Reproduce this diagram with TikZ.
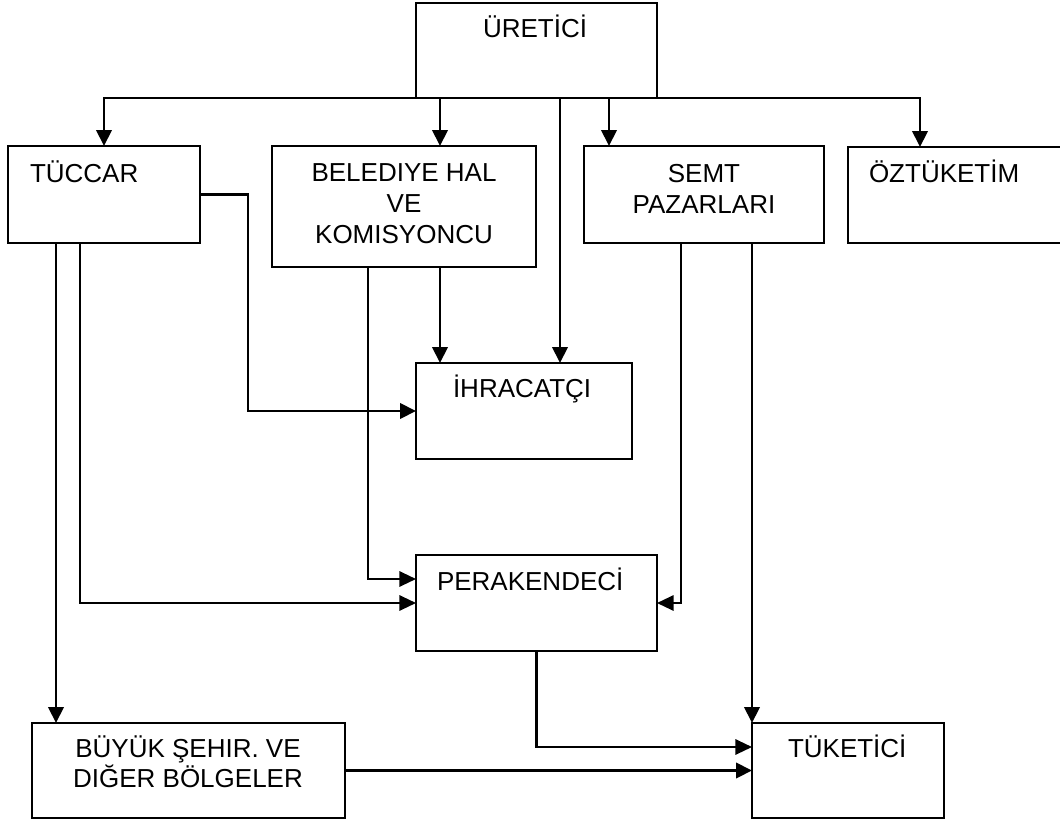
\documentclass[tikz,border=0pt]{standalone}
\usepackage{fontspec}
\setmainfont{Liberation Sans}
\usetikzlibrary{arrows.meta,calc}
\newcommand\mkbox[5]{\node[box,anchor=north west,minimum width={(#4-#2)*0.75pt},minimum height={(#5-#3)*0.75pt}] (#1) at (#2,#3) {};}
\begin{document}
\begin{tikzpicture}[x=0.75pt,y=-0.75pt,
  box/.style={draw,line width=2pt,inner sep=0pt,outer sep=0pt},
  txt/.style={inner sep=0pt,outer sep=0pt,font=\fontsize{19.5pt}{22.9pt}\selectfont},
  arr/.style={line width=2.1pt,-{Triangle[length=12pt,width=11.5pt]}},
  arrthin/.style={line width=1.6pt,-{Triangle[length=12.5pt,width=11.5pt]}}]
\useasboundingbox (0,0) rectangle (1060,824);
\begin{scope}
\clip (0,0) rectangle (1060,824);
% boxes
\mkbox{uretici}{416}{3}{657}{98}
\mkbox{tuccar}{8}{146}{200}{243}
\mkbox{beled}{272}{146}{536}{267}
\mkbox{semt}{584}{146}{824}{243}
\mkbox{oz}{848}{147}{1075}{243}
\mkbox{ihr}{416}{363}{632}{459}
\mkbox{per}{416}{555}{657}{651}
\mkbox{buy}{32}{723}{345}{818}
\mkbox{tuk}{752}{723}{944}{818}
% texts
\node[txt,anchor=base west] (turetici) at (483,38) {ÜRETİCİ};
\node[txt,anchor=base west] (ttuccar) at (30,182) {TÜCCAR};
\node[txt,anchor=base,align=center] (tbeled) at (404,243) {BELEDIYE HAL\\VE\\KOMISYONCU};
\node[txt,anchor=base,align=center] (tsemt) at (704,213) {SEMT\\PAZARLARI};
\node[txt,anchor=base west] (toz) at (869,182) {ÖZTÜKETİM};
\node[txt,anchor=base west] (tihr) at (453,397) {İHRACATÇI};
\node[txt,anchor=base west] (tper) at (437,590) {PERAKENDECİ};
\node[txt,anchor=base,align=center,font=\fontsize{19.5pt}{21.8pt}\selectfont] (tbuy) at (188,787) {BÜYÜK ŞEHIR. VE\\DIĞER BÖLGELER};
\node[txt,anchor=base west] (ttuk) at (788,757) {TÜKETİCİ};
% connectors from producer
\draw[arr] (uretici.south) -| (tuccar.north);
\draw[arr] (uretici.south) -| ($(beled.north)+(36,0)$);
\draw[arr] (uretici.south) -| ($(semt.north)+(-95,0)$);
\draw[arr] (uretici.south) -| ($(oz.north west)+(72,0)$);
\draw[arr] ($(uretici.south)+(23.5,0)$) -- ($(ihr.north)+(36,0)$);
% belediye
\draw[arr] ($(beled.south)+(36,0)$) -- ($(ihr.north west)+(24,0)$);
\draw[arrthin] ($(beled.south)+(-36,0)$) |- ($(per.west)+(0,-24)$);
% tuccar
\draw[arr] (tuccar.east) -- ++(48,0) |- (ihr.west);
\draw[arrthin] ($(tuccar.south west)+(72,0)$) |- (per.west);
\draw[arr] ($(tuccar.south west)+(48,0)$) -- ($(buy.north west)+(24,0)$);
% semt
\draw[arrthin] ($(semt.south west)+(97,0)$) |- (per.east);
\draw[arr] ($(semt.south west)+(168,0)$) -- (tuk.north west);
% to consumer
\draw[arrthin] (per.south) |- ($(tuk.west)+(0,-23.5)$);
\draw[arr] (buy.east) -- (tuk.west);
\end{scope}
\end{tikzpicture}
\end{document}
